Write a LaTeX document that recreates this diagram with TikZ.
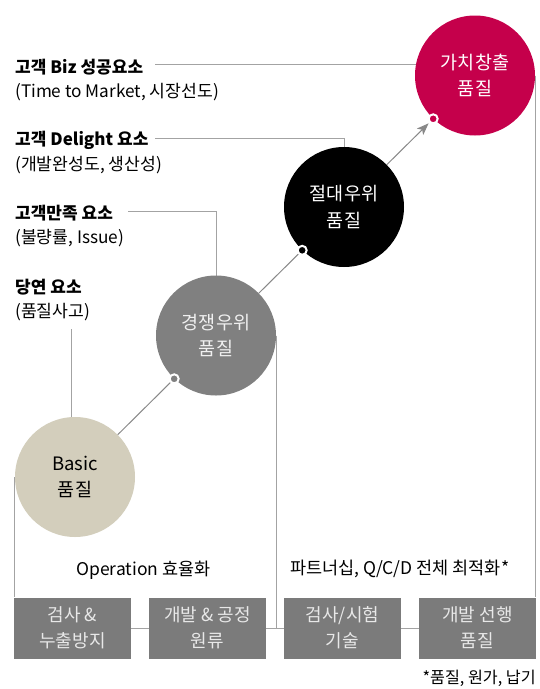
\documentclass[tikz,border=0pt]{standalone}
\usepackage{fontspec}
\setmainfont{Noto Sans CJK KR}
\usetikzlibrary{arrows.meta}
\definecolor{crim}{HTML}{C5004B}
\definecolor{cgray}{HTML}{808080}
\definecolor{beige}{HTML}{D3CEBC}
\definecolor{boxg}{HTML}{7B7B7B}
\definecolor{boxtext}{HTML}{E8E8E8}
\definecolor{lineg}{HTML}{A3A3A3}
\definecolor{darkl}{HTML}{888888}
\pgfdeclarelayer{bg}
\pgfsetlayers{bg,main}
\begin{document}
\begin{tikzpicture}[x=1pt,y=-1pt,
  circ/.style={circle, minimum size=120pt, inner sep=0pt, align=center, font=\fontsize{18.5}{26.5}\selectfont},
  mk/.style={circle, draw=white, line width=2pt, minimum size=9pt, inner sep=0pt},
  qbox/.style={rectangle, fill=boxg, minimum width=117pt, minimum height=61pt, inner sep=0pt, align=center, text=boxtext, font=\fontsize{18}{26}\selectfont},
  lbl/.style={anchor=west, inner sep=0pt, font=\fontsize{17}{19}\selectfont\bfseries},
  sub/.style={anchor=west, inner sep=0pt, font=\fontsize{17.2}{19}\selectfont},
  note/.style={inner sep=0pt, font=\fontsize{17.5}{19}\selectfont},
  cn/.style={draw=lineg, line width=1pt},
  dl/.style={draw=darkl, line width=1pt}
]
\useasboundingbox (0,0) rectangle (540,689);

% circles
\node[circ, fill=crim, text=white] (red) at (475,75.5) {가치창출\\품질};
\node[circ, fill=black, text=white] (blk) at (344,207) {절대우위\\품질};
\node[circ, fill=cgray, text=white!94!black] (gry) at (216,335.5) {경쟁우위\\품질};
\node[circ, fill=beige, text=black] (bas) at (75,477) {Basic\\품질};

% markers
\node[mk, fill=crim] (m4) at (red.-134) {};
\node[mk, fill=black] (m3) at (blk.-134) {};
\node[mk, fill=cgray] (m2) at (gry.-134) {};

% step connectors
\draw[dl] (bas) -- (m2);
\draw[dl] (gry) -- (m3);
\draw[dl, -{Stealth[length=12pt,width=9pt,inset=3pt]}, shorten >=1pt] (blk) -- (m4);

% labels
\node[lbl] (l1) at (15,66.7) {고객 Biz 성공요소};
\node[sub] (s1) at (15,91.7) {(Time to Market, 시장선도)};
\node[lbl] (l2) at (15,140) {고객 Delight 요소};
\node[sub] (s2) at (15,165) {(개발완성도, 생산성)};
\node[lbl] (l3) at (15,213.3) {고객만족 요소};
\node[sub] (s3) at (15,238.3) {(불량률, Issue)};
\node[lbl] (l4) at (15,286.7) {당연 요소};
\node[sub] (s4) at (15,311.7) {(품질사고)};

\coordinate (c1) at (155,64);
\coordinate (c2) at (155,138.3);
\coordinate (c3) at (128.3,211);
\coordinate (c4) at (71,329);

% boxes
\node[qbox] (b1) at (72.5,628) {검사 \&\\누출방지};
\node[qbox] (b2) at (207.5,628) {개발 \& 공정\\원류};
\node[qbox] (b3) at (342.5,628) {검사/시험\\기술};
\node[qbox] (b4) at (477.5,628) {개발 선행\\품질};

% notes
\node[note, anchor=west] (op) at (76,570) {Operation 효율화};
\node[note, anchor=west] (pt) at (290,569) {파트너십, Q/C/D 전체 최적화*};
\node[inner sep=0pt, anchor=east, font=\fontsize{16.2}{18}\selectfont] (fn) at (536,678.5) {*품질, 원가, 납기};

\begin{pgfonlayer}{bg}
\draw[cn] (c1) -- (c1 -| red.center);
\draw[cn] (c2) -| (blk.center);
\draw[cn] (c3) -| (gry.center);
\draw[cn] (c4) -- (c4 |- bas.center);
\draw[cn] (bas.west) -- (bas.west |- b1.north);
\draw[cn] (red.east) -- (red.east |- b4.north);
\draw[cn] (gry.east) -- (gry.east |- b2.east);
\draw[cn] (b1.east) -- (b2.west);
\draw[cn] (b2.east) -- (b3.west);
\draw[cn] (b3.east) -- (b4.west);
\end{pgfonlayer}
\end{tikzpicture}
\end{document}
